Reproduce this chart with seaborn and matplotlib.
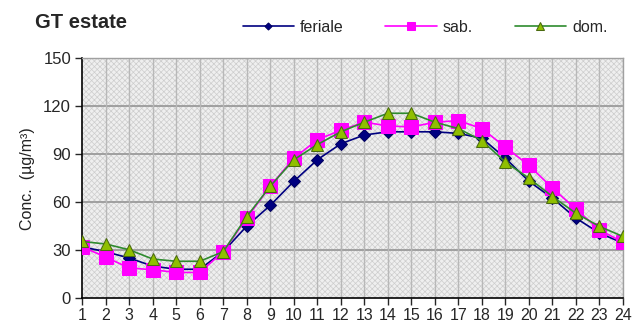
import pandas as pd
import seaborn as sns
import matplotlib.pyplot as plt
from matplotlib.patches import Rectangle

# ---- data ----
hours = list(range(1, 25))
feriale = [32, 29, 25, 20, 18, 18, 29, 45, 58, 73, 86.5, 96.5,
           102, 104, 104, 104, 103, 100, 87.5, 73, 62.5, 50, 40.6, 34.4]
sab = [32, 25.6, 18.8, 17.7, 16, 16, 29, 50, 70, 87.5, 99, 105,
       110, 107.7, 107, 110, 111, 106, 94.4, 83, 68.8, 55.6, 42.7, 34.8]
dom = [35.4, 33.8, 30.2, 24.4, 23, 23, 29, 51, 70, 86.5, 96, 104,
       110, 115.6, 115.6, 110, 106, 98.5, 85, 75, 63.5, 53, 44.8, 38.5]
series_names = ['feriale', 'sab.', 'dom.']
yticks = [0, 30, 60, 90, 120, 150]

df = pd.DataFrame({
    'ora': hours * 3,
    'conc': feriale + sab + dom,
    'giorno': [n for n in series_names for _ in hours],
})

sns.set_style('white')
plt.rcParams['font.family'] = ['Liberation Sans Narrow', 'Liberation Sans', 'DejaVu Sans']
plt.rcParams['hatch.linewidth'] = 0.5

fig = plt.figure(figsize=(6.37, 3.33), dpi=100)
ax = fig.add_axes([0.129, 0.105, 0.849, 0.72])

# crosshatch background like the original spreadsheet chart
ax.set_facecolor('#efefef')
ax.add_patch(Rectangle((0, 0), 1, 1, transform=ax.transAxes, facecolor='none',
                       edgecolor='#cdcdcd', hatch='xxxxxx', lw=0, zorder=0))

styles = {
    'feriale': dict(color='#000080', marker='D', markersize=6,
                    markerfacecolor='#000080', markeredgecolor='#000060'),
    'sab.': dict(color='#ff00ff', marker='s', markersize=10,
                 markerfacecolor='#ff00ff', markeredgecolor='#ff00ff'),
    'dom.': dict(color='#2e8b2e', marker='^', markersize=9,
                 markerfacecolor='#8fbf00', markeredgecolor='#4a6a10'),
}
for name in series_names:
    sub = df[df['giorno'] == name]
    sns.lineplot(data=sub, x='ora', y='conc', ax=ax, label=name,
                 linewidth=1.2, zorder=3, **styles[name])

ax.set_xlim(1, 24)
ax.set_ylim(0, 150)
ax.set_xticks(hours)
ax.set_yticks(yticks)
ax.set_xlabel('')
ax.set_ylabel('Conc.  (µg/m³)', fontsize=11.5, labelpad=6, color='#222222')

for v in yticks[1:]:
    ax.axhline(v, color='#9a9a9a', lw=1.3, zorder=1)
for h in hours[1:]:
    ax.axvline(h, color='#b8b8b8', lw=1.0, zorder=1)

ax.tick_params(axis='x', direction='out', length=5, width=1, labelsize=11.5, pad=2, bottom=True)
ax.tick_params(axis='y', direction='out', length=5, width=1, labelsize=12, pad=3, left=True)
for s in ['left', 'bottom']:
    ax.spines[s].set_color('black')
    ax.spines[s].set_linewidth(1.2)
for s in ['top', 'right']:
    ax.spines[s].set_color('#a0a0a0')
    ax.spines[s].set_linewidth(1.0)

fig.text(0.055, 0.915, 'GT estate', fontsize=14.5, fontweight='bold',
         family=['Liberation Sans', 'DejaVu Sans'])
ax.legend(loc='center left', bbox_to_anchor=(0.285, 1.13), ncol=3, frameon=False,
          fontsize=11.5, handlelength=3.2, columnspacing=2.6, handletextpad=0.4,
          markerscale=0.6, borderaxespad=0)

fig.savefig('out.png', dpi=100)
